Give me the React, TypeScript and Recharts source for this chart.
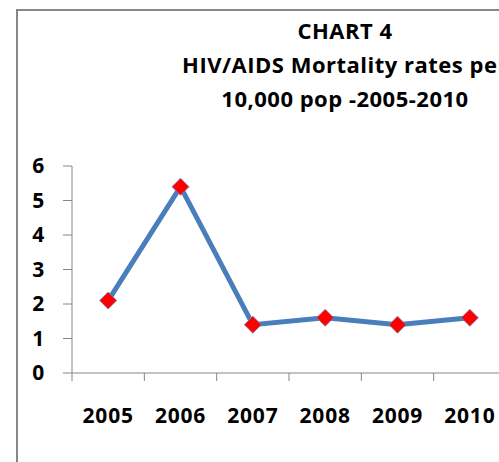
import React from "react";
import { Line, LineChart, XAxis, YAxis } from "recharts";

const years = ["2005", "2006", "2007", "2008", "2009", "2010"];
const rates = [2.1, 5.4, 1.4, 1.6, 1.4, 1.6];
const yTicks = [0, 1, 2, 3, 4, 5, 6];
const bandEdges = [0, 1, 2, 3, 4, 5, 6];
const titleLines = [
  "CHART 4",
  "HIV/AIDS Mortality rates per",
  "10,000 pop -2005-2010",
];

const data = years.map((year, i) => ({ year, pos: i + 0.5, rate: rates[i] }));

const font = "'Open Sans', 'DejaVu Sans', sans-serif";
const tickStyle = {
  fontFamily: font,
  fontSize: 21,
  fontWeight: 700,
  fill: "#000",
  letterSpacing: 0.8,
};

const Diamond = (props: any) => {
  const { cx, cy, index } = props;
  if (cx == null || cy == null) return null;
  const r = 8.5;
  return (
    <polygon
      key={`dot-${index}`}
      points={`${cx},${cy - r} ${cx + r},${cy} ${cx},${cy + r} ${cx - r},${cy}`}
      fill="#FF0000"
      stroke="#6A86C4"
      strokeWidth={0.8}
    />
  );
};

export default function App() {
  return (
    <div
      style={{
        position: "absolute",
        left: 0,
        top: 0,
        width: 499,
        height: 462,
        overflow: "hidden",
        background: "#fff",
      }}
    >
      <div
        style={{
          position: "absolute",
          left: 16,
          top: 9,
          width: 700,
          height: 520,
          border: "2px solid #878787",
          boxSizing: "border-box",
        }}
      />
      <div
        style={{
          position: "absolute",
          left: 17,
          top: 13,
          width: 656,
          textAlign: "center",
          fontFamily: font,
          fontWeight: 700,
          fontSize: 22,
          letterSpacing: 0.5,
          lineHeight: "34px",
          color: "#000",
          whiteSpace: "nowrap",
        }}
      >
        {titleLines.map((t) => (
          <div key={t}>{t}</div>
        ))}
      </div>
      <div style={{ position: "absolute", left: 0, top: 0 }}>
        <LineChart
          width={520}
          height={462}
          data={data}
          margin={{ top: 166, right: 14, bottom: 29, left: 12 }}
        >
          <XAxis
            xAxisId="pos"
            type="number"
            dataKey="pos"
            domain={[0, 6]}
            ticks={bandEdges}
            tickFormatter={() => ""}
            tickSize={8}
            height={10}
            stroke="#868686"
          />
          <XAxis
            xAxisId="year"
            dataKey="year"
            type="category"
            scale="band"
            axisLine={false}
            tickLine={false}
            tickMargin={19}
            height={50}
            tick={tickStyle}
            interval={0}
          />
          <YAxis
            domain={[0, 6]}
            ticks={yTicks}
            tickSize={9}
            tickMargin={18}
            width={60}
            stroke="#868686"
            tick={tickStyle}
          />
          <Line
            xAxisId="pos"
            type="linear"
            dataKey="rate"
            stroke="#4A7EBB"
            strokeWidth={5}
            dot={Diamond}
            activeDot={false}
            isAnimationActive={false}
          />
        </LineChart>
      </div>
    </div>
  );
}
